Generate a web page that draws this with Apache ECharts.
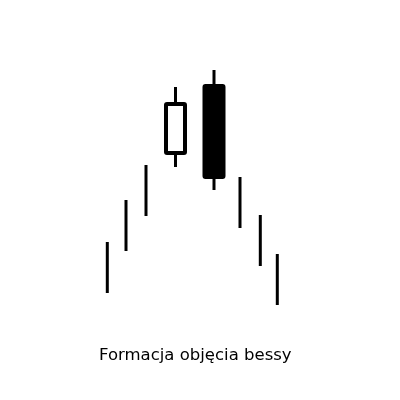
<!DOCTYPE html>
<html><head><meta charset="utf-8">
<script src="https://cdn.jsdelivr.net/npm/echarts@6/dist/echarts.min.js"></script>
<style>html,body{margin:0;padding:0;background:#fff}#c{width:400px;height:400px}</style>
</head><body><div id="c"></div>
<script>
// Trend bars (range only): x position, low, high
const trendX    = [107.3, 126, 146, 240, 260.3, 277.3];
const trendLow  = [107, 149, 184, 172, 134, 95];
const trendHigh = [158, 200, 235, 223, 185, 146];
// Candles: x, open, close, low, high
const candleX     = [175.5, 214];
const candleOpen  = [247, 314];
const candleClose = [296, 223];
const candleLow   = [233, 210];
const candleHigh  = [313, 330];
const titleText = 'Formacja objęcia bessy';

const trendData = trendX.map((x,i)=>[x, trendLow[i], trendHigh[i]]);
const candleData = candleX.map((x,i)=>[x, candleOpen[i], candleClose[i], candleLow[i], candleHigh[i]]);

const chart = echarts.init(document.getElementById('c'));
chart.setOption({
  animation:false,
  backgroundColor:'#fff',
  title:{text:titleText,left:94,top:342,textStyle:{fontFamily:'DejaVu Sans',fontSize:16.5,fontWeight:'normal',color:'#000'}},
  grid:{left:0,right:0,top:0,bottom:0},
  xAxis:{type:'value',min:0,max:400,show:false},
  yAxis:{type:'value',min:0,max:400,show:false},
  series:[
    {type:'custom',data:trendData,encode:{x:0,y:[1,2]},
     renderItem:function(params,api){
       const lo=api.coord([api.value(0),api.value(1)]);
       const hi=api.coord([api.value(0),api.value(2)]);
       return {type:'rect',shape:{x:lo[0]-1.5,y:hi[1],width:3,height:lo[1]-hi[1]},style:{fill:'#000'}};
     }},
    {type:'custom',data:candleData,encode:{x:0,y:[1,2,3,4]},
     renderItem:function(params,api){
       const x=api.value(0),o=api.value(1),c=api.value(2),l=api.value(3),h=api.value(4);
       const po=api.coord([x,o]),pc=api.coord([x,c]),pl=api.coord([x,l]),ph=api.coord([x,h]);
       const bear=c<o;
       const top=Math.min(po[1],pc[1]),bot=Math.max(po[1],pc[1]);
       const w=19;
       return {type:'group',children:[
         {type:'rect',shape:{x:ph[0]-1.5,y:ph[1],width:3,height:pl[1]-ph[1]},style:{fill:'#000'}},
         {type:'rect',shape:{x:po[0]-w/2,y:top,width:w,height:bot-top,r:1},style:{fill:bear?'#000':'#fff',stroke:'#000',lineWidth:4}}
       ]};
     }}
  ]
});
</script></body></html>
